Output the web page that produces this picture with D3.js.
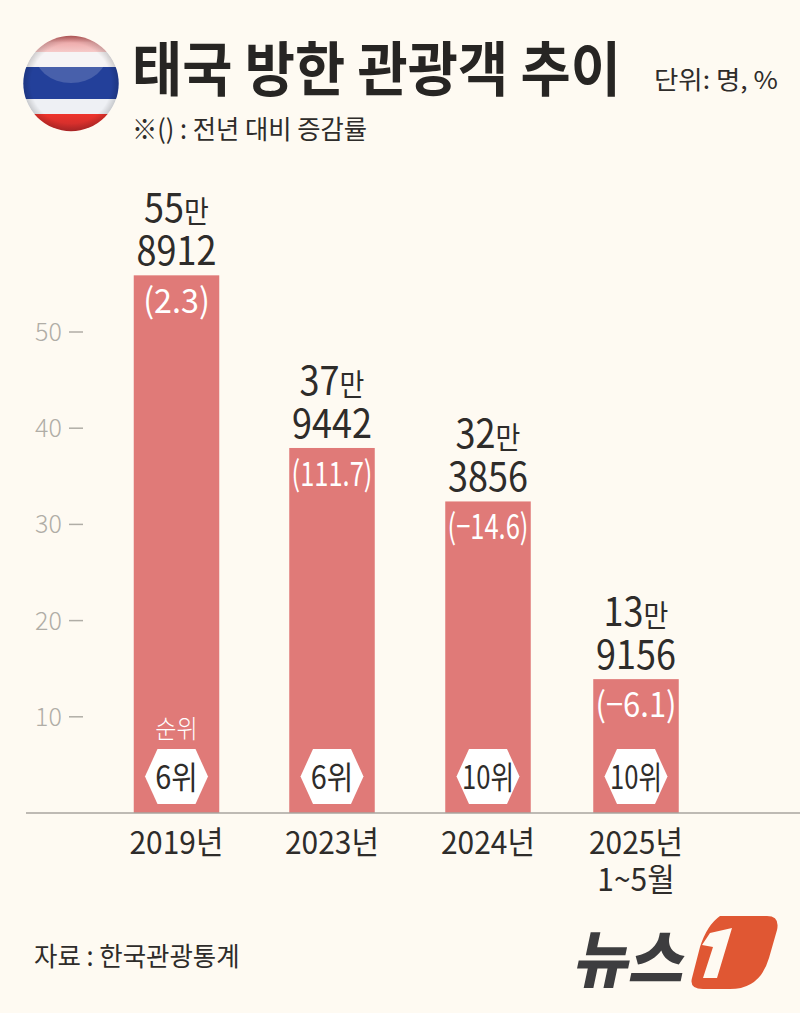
<!DOCTYPE html>
<html>
<head>
<meta charset="utf-8">
<script src="https://cdnjs.cloudflare.com/ajax/libs/d3/7.8.5/d3.min.js"></script>
<style>
html, body { margin: 0; padding: 0; background: #fefaf2; }
svg { display: block; }
text { font-family: "Noto Sans CJK KR", "Noto Sans", sans-serif; }
</style>
</head>
<body>
<svg id="chart" width="800" height="1013"></svg>
<script>
const categories = ['2019', '2023', '2024', '2025']
const catLabels = [['2019년'], ['2023년'], ['2024년'], ['2025년', '1~5월']]
const visitors = [558912, 379442, 323856, 139156]
const manLabels = ['55', '37', '32', '13']
const restLabels = ['8912', '9442', '3856', '9156']
const changeLabels = ['(2.3)', '(111.7)', '(−14.6)', '(−6.1)']
const ranks = ['6위', '6위', '10위', '10위']
const yTicks = [10, 20, 30, 40, 50]

const ink = '#2e2c2a', barColor = '#e07a78', bg = '#fefaf2'
const svg = d3.select('#chart')
svg.append('rect').attr('width', 800).attr('height', 1013).attr('fill', bg)

const x = d3.scaleOrdinal().domain(categories).range([176.5, 332, 488, 636])
const y = d3.scaleLinear().domain([0, 50]).range([813, 332])
const barW = 85.5

// condensed text, the font has no narrow cut so squeeze it horizontally
function label(parent, str, px, py, size, opts) {
    opts = opts || {}
    const sx = opts.sx || 0.8
    const t = parent.append('text')
        .attr('text-anchor', opts.anchor || 'middle')
        .attr('font-size', size)
        .attr('font-weight', opts.weight || 400)
        .attr('fill', opts.fill || ink)
        .text(str)
    let s = sx
    // some labels have to stay inside a bar or hexagon
    if (opts.maxW) s = Math.min(sx, opts.maxW / t.node().getComputedTextLength())
    t.attr('transform', 'translate(' + px + ',' + py + ') scale(' + s + ',1)')
    return t
}

// flag
const defs = svg.append('defs')
defs.append('clipPath').attr('id', 'flagClip').append('circle')
    .attr('cx', 71).attr('cy', 83.5).attr('r', 47.7)
const shade = defs.append('radialGradient').attr('id', 'flagShade')
    .attr('cx', '50%').attr('cy', '50%').attr('r', '50%')
shade.append('stop').attr('offset', '84%').attr('stop-color', '#000').attr('stop-opacity', 0)
shade.append('stop').attr('offset', '100%').attr('stop-color', '#000').attr('stop-opacity', 0.16)
const topRed = defs.append('linearGradient').attr('id', 'topRed').attr('x1', 0).attr('x2', 0).attr('y1', 0).attr('y2', 1)
topRed.append('stop').attr('offset', '0%').attr('stop-color', '#b93a3a')
topRed.append('stop').attr('offset', '45%').attr('stop-color', '#eb9c9c')
topRed.append('stop').attr('offset', '100%').attr('stop-color', '#f4c0bf')
const lowRed = defs.append('linearGradient').attr('id', 'lowRed').attr('x1', 0).attr('x2', 0).attr('y1', 0).attr('y2', 1)
lowRed.append('stop').attr('offset', '0%').attr('stop-color', '#ee342c')
lowRed.append('stop').attr('offset', '100%').attr('stop-color', '#c22a2c')
const flag = svg.append('g').attr('clip-path', 'url(#flagClip)')
const stripes = [
    { y: 35, h: 17, c: 'url(#topRed)' },
    { y: 52, h: 15, c: '#f4f2f3' },
    { y: 67, h: 32, c: '#23409a' },
    { y: 99, h: 15, c: '#eef0f4' },
    { y: 114, h: 18, c: 'url(#lowRed)' }
]
flag.selectAll('rect').data(stripes).join('rect')
    .attr('x', 22).attr('width', 98).attr('y', d => d.y).attr('height', d => d.h)
    .attr('fill', d => d.c)
flag.append('ellipse').attr('cx', 71).attr('cy', 52).attr('rx', 37).attr('ry', 31)
    .attr('fill', '#fff').attr('opacity', 0.17)
flag.append('circle').attr('cx', 71).attr('cy', 83.5).attr('r', 47.7).attr('fill', 'url(#flagShade)')

// titles
label(svg, '태국 방한 관광객 추이', 132, 91, 59, { anchor: 'start', weight: 700, sx: 0.925, fill: '#272523' })
label(svg, '단위: 명, %', 654, 89, 24.5, { anchor: 'start', sx: 1.08 })
label(svg, '※() : 전년 대비 증감률', 132, 139, 26.5, { anchor: 'start', sx: 0.955 })

// y axis, just the tick text and dash
const tickG = svg.append('g').selectAll('g').data(yTicks).join('g')
tickG.each(function (d) {
    label(d3.select(this), d, 35, y(d) + 9, 25, { anchor: 'start', fill: '#b0ada6', weight: 300, sx: 1.0 })
})
tickG.append('line').attr('x1', 69).attr('x2', 83)
    .attr('y1', d => y(d)).attr('y2', d => y(d))
    .attr('stroke', '#b0ada6').attr('stroke-width', 1.5)

// bars
svg.append('g').selectAll('rect').data(categories).join('rect')
    .attr('x', d => x(d) - barW / 2)
    .attr('width', barW)
    .attr('y', (d, i) => y(visitors[i] / 10000))
    .attr('height', (d, i) => y(0) - y(visitors[i] / 10000))
    .attr('fill', barColor)

// baseline
svg.append('line').attr('x1', 26).attr('x2', 800).attr('y1', y(0)).attr('y2', y(0))
    .attr('stroke', '#a9a59f').attr('stroke-width', 1.5)

categories.forEach((c, i) => {
    const cx = x(c), top = y(visitors[i] / 10000)

    // value label: "55만" over "8912", one text with two rows
    const t = label(svg, '', cx, top - 53, 40, { sx: 0.9 })
    t.append('tspan').text(manLabels[i])
    t.append('tspan').attr('font-size', 30).text('만')
    t.append('tspan').attr('x', 0).attr('dy', 43).text(restLabels[i])

    // change inside the bar
    label(svg, changeLabels[i], cx, top + 38, 34, { fill: '#fff', sx: 0.95, maxW: 81 })

    // rank hexagon
    const hy = 776.5, rx = 31.5, ry = 27.5, cut = 19
    svg.append('polygon')
        .attr('points', [[cx - rx, hy], [cx - cut, hy - ry], [cx + cut, hy - ry], [cx + rx, hy], [cx + cut, hy + ry], [cx - cut, hy + ry]].join(' '))
        .attr('fill', '#fff')
    label(svg, ranks[i], cx, hy + 12, 32, { sx: 0.9, maxW: 52 })

    // category labels
    const cat = label(svg, '', cx, 854, 31.5, { sx: 0.95 })
    catLabels[i].forEach((s, j) => {
        cat.append('tspan').attr('x', 0).attr('dy', j ? 37 : 0).text(s)
    })
})
label(svg, '순위', x('2019'), 738, 25, { fill: '#fff', sx: 0.92, weight: 300 })

// source
label(svg, '자료 : 한국관광통계', 34, 966, 26.5, { anchor: 'start', sx: 0.96 })

// logo
const logo = svg.append('g')
logo.append('text')
    .attr('transform', 'translate(572,982) skewX(-12) scale(0.97,1)')
    .attr('font-size', 62).attr('font-weight', 900).attr('fill', '#3d3d3f').text('뉴스')
logo.append('path')
    .attr('d', 'M720 916 L767 916 Q780 916 777 930 L769 958 Q760 989 730 989 L703 989 Q689 989 692 978 L700 947 Q707 925 720 916 Z')
    .attr('fill', '#e05733')
logo.append('path')
    .attr('d', 'M732 928 L710 933 L702 945 L713 947 L703 978 L717 978 Z')
    .attr('fill', bg)
</script>
</body>
</html>
